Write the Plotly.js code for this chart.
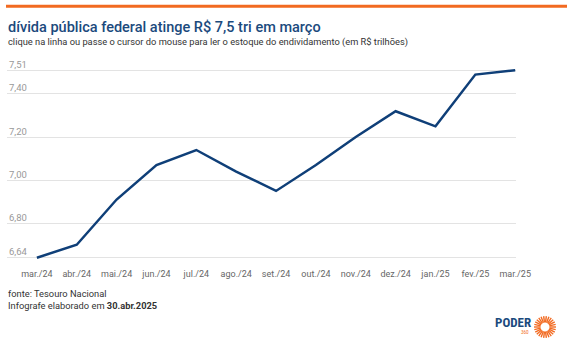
<!DOCTYPE html>
<html>
<head>
<meta charset="utf-8">
<script src="https://cdn.plot.ly/plotly-3.0.1.min.js"></script>
<style>
html,body{margin:0;padding:0;background:#fff;}
#chart{width:567px;height:343px;}
</style>
</head>
<body>
<div id="chart"></div>
<script>
const months = ["mar./24","abr./24","mai./24","jun./24","jul./24","ago./24","set./24","out./24","nov./24","dez./24","jan./25","fev./25","mar./25"];
const debt = [6.64, 6.70, 6.91, 7.07, 7.14, 7.04, 6.95, 7.07, 7.20, 7.32, 7.25, 7.49, 7.51];
const yTicks = [6.64, 6.80, 7.00, 7.20, 7.40, 7.51];
const yTickText = ["6,64","6,80","7,00","7,20","7,40","7,51"];

const W = 567, H = 343;
const L = 7, R = 516, T = 66, B = 262;
const px = x => (x - L) / (R - L);
const py = y => (B - y) / (B - T);
const pxPerUnit = (257.7 - 70.3) / (7.51 - 6.64);
const yMin = 6.64 - (B - 257.7) / pxPerUnit;
const yMax = 7.51 + (70.3 - T) / pxPerUnit;

const trace = {
  x: months.map((m, i) => i),
  y: debt,
  type: 'scatter',
  mode: 'lines',
  line: {color: '#0f3f78', width: 2.5},
  cliponaxis: false,
  hoverinfo: 'skip'
};

const shapes = [
  {type:'line', xref:'paper', yref:'paper', x0:px(6), x1:px(567), y0:py(6.3), y1:py(6.3), line:{color:'#f26a21', width:3}}
];
const cx = 545, cy = 327;
for (let k = 0; k < 26; k++) {
  const a = k * Math.PI * 2 / 26;
  shapes.push({type:'line', xref:'paper', yref:'paper',
    x0: px(cx + 4.5 * Math.cos(a)), y0: py(cy + 4.5 * Math.sin(a)),
    x1: px(cx + 11 * Math.cos(a)), y1: py(cy + 11 * Math.sin(a)),
    line:{color:'#f26a21', width:1.4}});
}

const tickAnns = yTicks.map((v, i) => ({
  text: yTickText[i], xref: 'paper', yref: 'y', x: 0, y: v, yshift: 6,
  xanchor: 'left', yanchor: 'middle', showarrow: false,
  font: {size: 9.5, color: '#999'}
}));

const layout = {
  width: W, height: H,
  margin: {l: L, r: W - R, t: T, b: H - B},
  paper_bgcolor: '#fff', plot_bgcolor: '#fff',
  font: {family: 'Roboto, sans-serif', color: '#555'},
  showlegend: false,
  xaxis: {
    range: [-0.75, 12.02],
    tickvals: months.map((m, i) => i),
    ticktext: months,
    showgrid: false, zeroline: false, showline: false,
    ticks: '', tickfont: {size: 9, color: '#666'},
    ticklabelstandoff: 5,
    fixedrange: true
  },
  yaxis: {
    range: [yMin, yMax],
    tickvals: yTicks, showticklabels: false,
    showgrid: true, gridcolor: '#e3e3e3', gridwidth: 1,
    zeroline: false, showline: false, ticks: '',
    fixedrange: true
  },
  shapes: shapes,
  annotations: tickAnns.concat([
    {text: 'dívida pública federal atinge R$ 7,5 tri em março',
     xref:'paper', yref:'paper', x: px(6), y: py(27.5), xanchor:'left', yanchor:'middle',
     showarrow:false, font:{size:14.5, color:'#1b4a7d', weight: 500}},
    {text: 'clique na linha ou passe o cursor do mouse para ler o estoque do endividamento (em R$ trilhões)',
     xref:'paper', yref:'paper', x: px(6), y: py(42), xanchor:'left', yanchor:'middle',
     showarrow:false, font:{size:9.3, color:'#333'}},
    {text: 'fonte: Tesouro Nacional',
     xref:'paper', yref:'paper', x: px(6), y: py(293), xanchor:'left', yanchor:'middle',
     showarrow:false, font:{size:9.3, color:'#333'}},
    {text: 'Infografe elaborado em <b>30.abr.2025</b>',
     xref:'paper', yref:'paper', x: px(6), y: py(305), xanchor:'left', yanchor:'middle',
     showarrow:false, font:{size:9.3, color:'#333'}},
    {text: '<b>PODER</b>',
     xref:'paper', yref:'paper', x: px(533), y: py(322.5), xanchor:'right', yanchor:'middle',
     showarrow:false, font:{size:13, color:'#1b4a7d', family:'Roboto Condensed, Roboto, sans-serif'}},
    {text: '360',
     xref:'paper', yref:'paper', x: px(531), y: py(332), xanchor:'right', yanchor:'middle',
     showarrow:false, font:{size:4.5, color:'#f26a21'}}
  ])
};

Plotly.newPlot('chart', [trace], layout, {displayModeBar: false, staticPlot: true});
</script>
</body>
</html>
